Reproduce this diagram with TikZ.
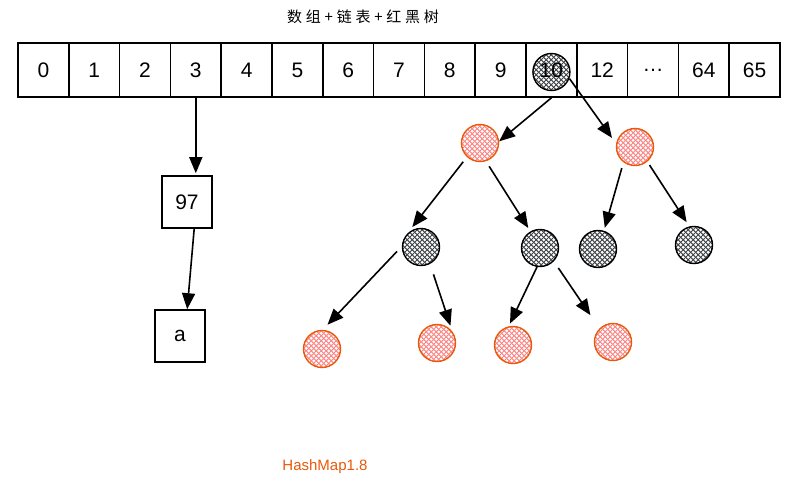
\documentclass[tikz,border=0pt]{standalone}
\usepackage{fontspec}
\setmainfont{Liberation Sans}
\newfontfamily\cjk[LetterSpace=25]{Noto Sans CJK SC}
\usetikzlibrary{arrows.meta,patterns.meta}

\definecolor{hred}{HTML}{E8590C}
\definecolor{hpink}{HTML}{FA5252}
\definecolor{hgrey}{HTML}{212529}

% hachures croisees
\tikzdeclarepattern{name=xhatch, type=uncolored,
	bounding box={(0,0) and (4.6pt,4.6pt)}, tile size={(4.6pt,4.6pt)},
	code={\draw[line width=1.1pt] (-0.5pt,-0.5pt) -- (5.1pt,5.1pt) (-0.5pt,5.1pt) -- (5.1pt,-0.5pt);}}

\begin{document}
\begin{tikzpicture}[x=1pt, y=-1pt,
	cell/.style={draw, line width=1.6pt, minimum width=50.8pt, minimum height=54pt, inner sep=0pt, font=\fontsize{21}{24}\selectfont},
	box/.style={draw, line width=1.6pt, minimum width=50pt, minimum height=52pt, inner sep=0pt, font=\fontsize{21}{24}\selectfont},
	rdot/.style={circle, draw=hred, line width=1.4pt, pattern=xhatch, pattern color=hpink!70, minimum size=37pt, inner sep=0pt},
	bdot/.style={circle, draw=black, line width=1.4pt, pattern=xhatch, pattern color=hgrey!85, minimum size=37pt, inner sep=0pt},
	arr/.style={-{Triangle[length=16pt,width=13pt]}, line width=1.6pt}]

\useasboundingbox (0,0) rectangle (802,492);

\node[font=\cjk\fontsize{15}{18}\selectfont] (title) at (363,17) {数组+链表+红黑树};

% tableau
\node[bdot] (t10) at (551.4,72) {};
\foreach \v [count=\i from 0] in {0,1,2,3,4,5,6,7,8,9,10,12,{\ldots},64,65}
    \node[cell] (c\i) at ({43.4+50.8*\i},70) {\v};

% liste
\node[box] (n97) at (187,202) {97};
\node[box] (na) at (180,336) {a};

\draw[arr, shorten >=2pt] (c3.south) -- (c3.south |- n97.north);
\draw[arr] (n97.-75) -- (na.75);

% arbre
\node[rdot] (r1) at (480,143) {};
\node[rdot] (r2) at (635,147) {};
\node[bdot] (b1) at (421,247) {};
\node[bdot] (b2) at (540,248) {};
\node[bdot] (b3) at (598,249) {};
\node[bdot] (b4) at (694,245) {};
\node[rdot] (r3) at (322,349) {};
\node[rdot] (r4) at (437,343) {};
\node[rdot] (r5) at (513,345) {};
\node[rdot] (r6) at (613,342) {};

\draw[arr] (c10.south) -- (r1.5);
\draw[arr, shorten >=7pt] (t10.-20) -- (r2.170);
\draw[arr, shorten <=6pt, shorten >=9pt] (r1.227) -- (b1.138);
\draw[arr, shorten <=6pt, shorten >=4pt] (r1.-72) -- (b2.120);
\draw[arr, shorten <=6pt, shorten >=3pt] (r2.233) -- (b3.72);
\draw[arr, shorten <=4pt, shorten >=5pt] (r2.-50) -- (b4.104);
\draw[arr, shorten <=7pt, shorten >=7pt] (b1.178) -- (r3.88);
\draw[arr, shorten <=11pt, shorten >=6pt] (b1.-62) -- (r4.37);
\draw[arr, shorten >=3pt] (b2.-99) -- (r5.103);
\draw[arr, shorten <=8pt, shorten >=16pt] (b2.-44) -- (r6.135);

\node[text=hred, font=\fontsize{15}{18}\selectfont] (cap) at (325,467) {HashMap1.8};

\end{tikzpicture}
\end{document}
